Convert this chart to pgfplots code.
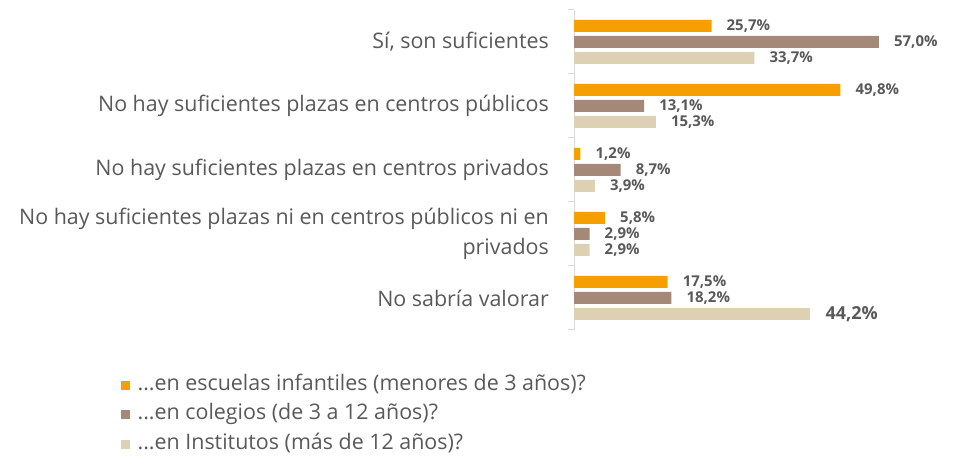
\documentclass[border=0pt]{standalone}
\usepackage{fontspec}
\setmainfont{Open Sans}
\usepackage{pgfplots}
\pgfplotsset{compat=1.18}
\definecolor{cOr}{HTML}{F5A000}
\definecolor{cBr}{HTML}{A48878}
\definecolor{cBe}{HTML}{DED0B3}
\definecolor{txt}{HTML}{595959}
\definecolor{axl}{HTML}{D9D9D9}
\begin{document}
\begin{tikzpicture}[x=1bp,y=1bp]
\useasboundingbox (0,0) rectangle (962,460);
\begin{axis}[
  at={(574bp,130bp)}, anchor=south west,
  scale only axis, width=321bp, height=320bp,
  xbar, xmin=0, xmax=60, ymin=-0.5, ymax=4.5, y dir=reverse,
  enlargelimits=false, clip=false,
  bar width=12bp,
  axis x line=none,
  axis y line*=left,
  y axis line style={axl, line width=1pt},
  ytick={0,1,2,3,4}, major tick length=0pt,
  minor ytick={-0.5,0.5,1.5,2.5,3.5,4.5}, minor tick length=6bp, tick align=outside,
  minor tick style={axl, line width=1pt},
  yticklabels={{Sí, son suficientes},{No hay suficientes plazas en centros públicos},{No hay suficientes plazas en centros privados},{No hay suficientes plazas ni en centros públicos ni en\\privados},{No sabría valorar}},
  yticklabel style={align=right, text=txt, font=\fontsize{21.5}{30}\selectfont, inner sep=0pt, xshift=-25bp},
  /pgf/number format/assume math mode=true,
  nodes near coords={\pgfmathprintnumber[fixed,fixed zerofill,precision=1,use comma]{\pgfplotspointmeta}\%},
  every node near coord/.append style={font=\bfseries\fontsize{15}{17}\selectfont, text=txt, anchor=west, inner sep=0pt, xshift=15bp},
  legend image code/.code={\draw[#1,draw=none] (0bp,-4.5bp) rectangle (9bp,4.5bp);},
  legend style={at={(axis description cs:-1.411,-0.14)}, anchor=north west, draw=none, fill=none,
    inner sep=0pt, outer sep=0pt, row sep=9bp,
    font=\fontsize{21.5}{25}\selectfont, text=txt,
    nodes={inner sep=0pt, text height=15.5bp, text depth=5bp},
    /tikz/every odd column/.style={column sep=7.5bp}},
  legend cell align=left,
]
\addplot[fill=cOr, draw=none, bar shift=16bp] coordinates {(25.7,0) (49.8,1) (1.2,2) (5.8,3) (17.5,4)};
\addlegendentry{...en escuelas infantiles (menores de 3 años)?}
\addplot[fill=cBr, draw=none, bar shift=0bp] coordinates {(57.0,0) (13.1,1) (8.7,2) (2.9,3) (18.2,4)};
\addlegendentry{...en colegios (de 3 a 12 años)?}
\addplot[fill=cBe, draw=none, bar shift=-16bp] coordinates {(33.7,0) (15.3,1) (3.9,2) (2.9,3)};
\addlegendentry{...en Institutos (más de 12 años)?}
\addplot[fill=cBe, draw=none, bar shift=-16bp, forget plot,
  every node near coord/.append style={font=\bfseries\fontsize{18}{20}\selectfont}] coordinates {(44.2,4)};
\end{axis}
\end{tikzpicture}
\end{document}
